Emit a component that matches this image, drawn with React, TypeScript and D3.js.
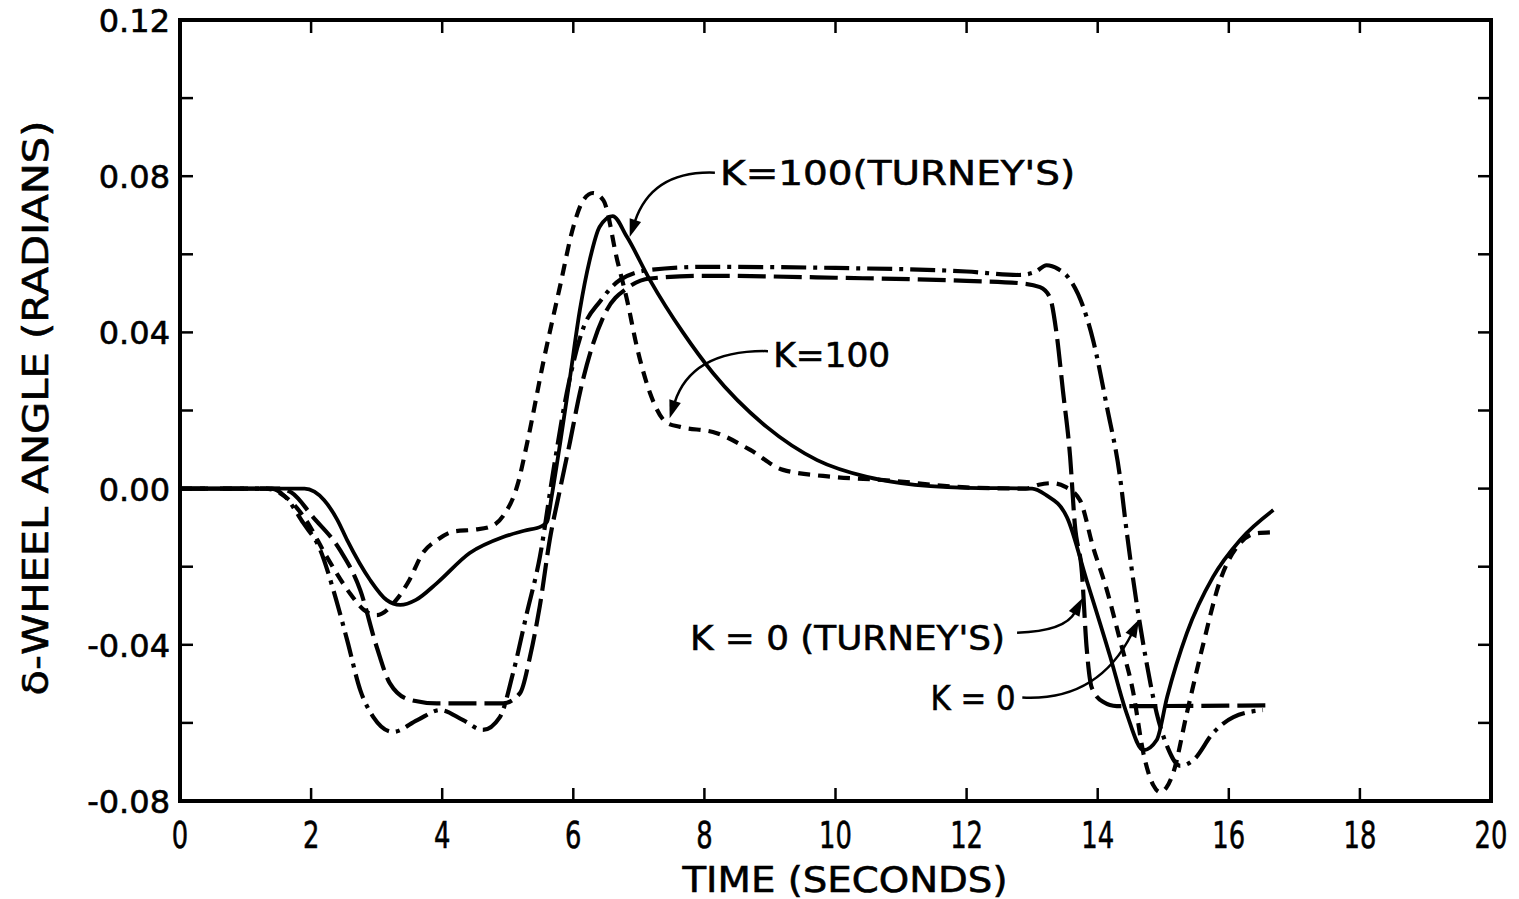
import React from "react";
import * as d3 from "d3";

// ---- data (time in seconds, delta wheel angle in radians) ----
const k100TurneyT = [0, 1.9, 2.05, 2.2, 2.4, 2.55, 2.9, 3.15, 3.36, 3.6, 3.92, 4.42, 4.93, 5.25, 5.52, 5.6, 5.67, 5.8, 5.95, 6.1, 6.25, 6.4, 6.6, 6.82, 7.17, 7.68, 8.13, 8.95, 9.72, 10.48, 11.0, 12.0, 13.0, 13.2, 13.53, 13.83, 14.19, 14.44, 14.7, 14.9, 15.06, 15.36, 15.76, 16.17, 16.68];
const k100TurneyV = [0, 0, -0.0008, -0.003, -0.008, -0.0132, -0.0234, -0.0285, -0.0298, -0.0285, -0.0242, -0.0165, -0.0124, -0.0108, -0.0096, -0.0085, -0.002, 0.0117, 0.0285, 0.0457, 0.0585, 0.067, 0.0698, 0.0644, 0.0534, 0.0398, 0.0296, 0.0158, 0.0073, 0.003, 0.0014, 0.0002, 0, -0.0015, -0.0073, -0.0234, -0.043, -0.0575, -0.067, -0.0644, -0.0533, -0.037, -0.0226, -0.0132, -0.0055];

const k100T = [0, 1.3, 1.6, 1.9, 2.24, 2.6, 2.8, 3.0, 3.3, 3.5, 3.7, 3.92, 4.17, 4.5, 4.73, 4.93, 5.15, 5.3, 5.55, 5.8, 6.0, 6.15, 6.3, 6.46, 6.67, 6.82, 6.97, 7.17, 7.43, 7.63, 8.19, 8.7, 9.2, 9.97, 10.73, 12.0, 12.9, 13.1, 13.3, 13.5, 13.73, 13.93, 14.14, 14.34, 14.54, 14.7, 14.85, 14.95, 15.05, 15.15, 15.36, 15.6, 15.87, 16.17, 16.4, 16.63];
const k100V = [0, 0, -0.002, -0.0075, -0.0175, -0.027, -0.031, -0.0324, -0.0285, -0.0234, -0.0166, -0.0132, -0.011, -0.0105, -0.0098, -0.007, 0.001, 0.012, 0.033, 0.052, 0.067, 0.0738, 0.0757, 0.0738, 0.0585, 0.0483, 0.0363, 0.0245, 0.0168, 0.0158, 0.0142, 0.0099, 0.0048, 0.003, 0.0022, 0.0003, 0, 0.001, 0.0014, 0.0005, -0.003, -0.015, -0.026, -0.0388, -0.052, -0.068, -0.076, -0.0777, -0.0765, -0.0729, -0.0575, -0.0405, -0.0234, -0.014, -0.0115, -0.0112];

const k0TurneyT = [0, 1.5, 1.7, 2.03, 2.44, 2.75, 3.0, 3.2, 3.51, 3.92, 4.93, 5.19, 5.34, 5.49, 5.64, 5.8, 5.95, 6.1, 6.3, 6.51, 6.82, 7.17, 8.0, 10.0, 12.0, 12.81, 13.12, 13.27, 13.37, 13.47, 13.58, 13.65, 13.76, 13.83, 13.91, 14.08, 14.29, 16.63];
const k0TurneyV = [0, 0, -0.001, -0.0073, -0.0157, -0.026, -0.0405, -0.0498, -0.0541, -0.055, -0.055, -0.0523, -0.043, -0.03, -0.0132, 0, 0.012, 0.0245, 0.037, 0.0457, 0.0513, 0.0538, 0.0545, 0.054, 0.0532, 0.0526, 0.0516, 0.049, 0.04, 0.025, 0.008, -0.009, -0.0217, -0.0405, -0.051, -0.0546, -0.0557, -0.0555];

const k0T = [0, 1.4, 1.6, 1.88, 2.14, 2.34, 2.55, 2.75, 2.95, 3.25, 3.62, 3.97, 4.32, 4.62, 4.88, 5.08, 5.29, 5.49, 5.69, 5.9, 6.15, 6.41, 6.71, 7.17, 8.0, 10.0, 12.0, 12.8, 13.05, 13.22, 13.4, 13.53, 13.78, 13.93, 14.14, 14.34, 14.44, 14.6, 14.75, 14.9, 15.06, 15.26, 15.46, 15.76, 16.07, 16.52];
const k0V = [0, 0, -0.002, -0.0088, -0.0157, -0.026, -0.0388, -0.0516, -0.0585, -0.0623, -0.0593, -0.0567, -0.0593, -0.0618, -0.0585, -0.0473, -0.032, -0.0175, 0.004, 0.0245, 0.041, 0.048, 0.0534, 0.056, 0.0568, 0.0565, 0.0556, 0.0547, 0.0555, 0.0572, 0.0562, 0.0545, 0.0465, 0.038, 0.021, 0.003, -0.0107, -0.03, -0.045, -0.0575, -0.066, -0.071, -0.0695, -0.0626, -0.0585, -0.0567];

const xTickValues = [0, 2, 4, 6, 8, 10, 12, 14, 16, 18, 20];
const yLabelValues = [0.12, 0.08, 0.04, 0.0, -0.04, -0.08];
const yLabelTexts = ["0.12", "0.08", "0.04", "0.00", "-0.04", "-0.08"];
const yTickValues = [0.12, 0.1, 0.08, 0.06, 0.04, 0.02, 0, -0.02, -0.04, -0.06, -0.08];

const seriesNames = ["K=100 (TURNEY'S)", "K=100", "K=0 (TURNEY'S)", "K=0"];

// annotation labels placed in data coordinates
const annotations = [
  { label: "K=100(TURNEY'S)", tx: 8.24, ty: 0.0777, len: 355, from: [8.16, 0.0809], ctrl: [7.2, 0.0815], to: [6.86, 0.0644] },
  { label: "K=100", tx: 9.05, ty: 0.0311, len: 117, from: [8.97, 0.0352], ctrl: [7.8, 0.0355], to: [7.47, 0.018] },
  { label: "K = 0 (TURNEY'S)", tx: 7.78, ty: -0.0413, len: 315, from: [12.77, -0.0369], ctrl: [13.5, -0.0365], to: [13.77, -0.028] },
  { label: "K = 0", tx: 11.45, ty: -0.0567, len: 85, from: [12.85, -0.0535], ctrl: [14.0, -0.0545], to: [14.63, -0.0335] },
];

const W = 1519;
const H = 899;
const X0 = 180, X1 = 1491, Y0 = 20, Y1 = 801;
const FONT = "'DejaVu Sans', 'Liberation Sans', sans-serif";

export default function App() {
  const x = d3.scaleLinear().domain([0, 20]).range([X0, X1]);
  const y = d3.scaleLinear().domain([-0.08, 0.12]).range([Y1, Y0]);
  const line = d3
    .line<[number, number]>()
    .x((d) => x(d[0]))
    .y((d) => y(d[1]))
    .curve(d3.curveMonotoneX);

  const zip = (t: number[], v: number[]) => t.map((tt, i) => [tt, v[i]] as [number, number]);
  const series = [
    { name: seriesNames[0], pts: zip(k100TurneyT, k100TurneyV), dash: "none", w: 3.8 },
    { name: seriesNames[1], pts: zip(k100T, k100V), dash: "12,8", w: 4.2 },
    { name: seriesNames[2], pts: zip(k0TurneyT, k0TurneyV), dash: "28,8", w: 4.2 },
    { name: seriesNames[3], pts: zip(k0T, k0V), dash: "25,7,4,7", w: 4.2 },
  ];

  const tickLen = 13;
  const textStroke = { stroke: "#000", strokeWidth: 0.6 };

  return (
    <svg width={W} height={H} style={{ position: "absolute", left: 0, top: 0, background: "#fff" }}>
      <rect x={0} y={0} width={W} height={H} fill="#fff" />
      {/* frame */}
      <rect x={X0} y={Y0} width={X1 - X0} height={Y1 - Y0} fill="none" stroke="#000" strokeWidth={4} />
      {/* x ticks bottom & top */}
      {xTickValues.slice(1, -1).map((t) => (
        <g key={"xt" + t}>
          <line x1={x(t)} x2={x(t)} y1={Y1} y2={Y1 - tickLen} stroke="#000" strokeWidth={2.5} />
          <line x1={x(t)} x2={x(t)} y1={Y0} y2={Y0 + tickLen} stroke="#000" strokeWidth={2.5} />
        </g>
      ))}
      {/* y ticks left & right */}
      {yTickValues.slice(1, -1).map((v) => (
        <g key={"yt" + v}>
          <line x1={X0} x2={X0 + tickLen} y1={y(v)} y2={y(v)} stroke="#000" strokeWidth={2.5} />
          <line x1={X1} x2={X1 - tickLen} y1={y(v)} y2={y(v)} stroke="#000" strokeWidth={2.5} />
        </g>
      ))}
      {/* x labels */}
      {xTickValues.map((t) => (
        <text
          key={"xl" + t}
          transform={`translate(${x(t)},${Y1 + 47}) scale(0.68,1)`}
          textAnchor="middle"
          fontFamily={FONT}
          fontSize={38}
          fill="#000"
          {...textStroke}
        >
          {String(t)}
        </text>
      ))}
      {/* y labels */}
      {yLabelValues.map((v, i) => (
        <text
          key={"yl" + v}
          x={X0 - 10}
          y={y(v) + 12}
          textAnchor="end"
          fontFamily={FONT}
          fontSize={32}
          fill="#000"
          {...textStroke}
        >
          {yLabelTexts[i]}
        </text>
      ))}
      {/* axis titles */}
      <text
        x={845}
        y={892}
        textAnchor="middle"
        fontFamily={FONT}
        fontSize={36}
        textLength={325}
        lengthAdjust="spacingAndGlyphs"
        fill="#000"
        {...textStroke}
      >
        TIME (SECONDS)
      </text>
      <text
        transform={`translate(48,408) rotate(-90)`}
        textAnchor="middle"
        fontFamily={FONT}
        fontSize={36}
        textLength={575}
        lengthAdjust="spacingAndGlyphs"
        fill="#000"
        {...textStroke}
      >
        δ-WHEEL ANGLE (RADIANS)
      </text>
      {/* series */}
      {series.map((s) => (
        <path
          key={s.name}
          d={line(s.pts) || ""}
          fill="none"
          stroke="#000"
          strokeWidth={s.w}
          strokeDasharray={s.dash}
          strokeLinecap="butt"
          strokeLinejoin="round"
        />
      ))}
      {/* annotations */}
      {annotations.map((a) => {
        const fx = x(a.from[0]), fy = y(a.from[1]);
        const cx = x(a.ctrl[0]), cy = y(a.ctrl[1]);
        const tx = x(a.to[0]), ty = y(a.to[1]);
        const dx = tx - cx, dy = ty - cy;
        const L = Math.hypot(dx, dy) || 1;
        const ux = dx / L, uy = dy / L;
        const hl = 18, hw = 6;
        const bx = tx - ux * hl, by = ty - uy * hl;
        const p1 = [bx - uy * hw, by + ux * hw];
        const p2 = [bx + uy * hw, by - ux * hw];
        return (
          <g key={a.label}>
            <path
              d={`M${fx},${fy} Q${cx},${cy} ${bx + ux * 2},${by + uy * 2}`}
              fill="none"
              stroke="#000"
              strokeWidth={2.5}
            />
            <path d={`M${tx},${ty} L${p1[0]},${p1[1]} L${p2[0]},${p2[1]} Z`} fill="#000" />
            <text
              x={x(a.tx)}
              y={y(a.ty)}
              fontFamily={FONT}
              fontSize={34}
              textLength={a.len}
              lengthAdjust="spacingAndGlyphs"
              fill="#000"
              {...textStroke}
            >
              {a.label}
            </text>
          </g>
        );
      })}
    </svg>
  );
}
